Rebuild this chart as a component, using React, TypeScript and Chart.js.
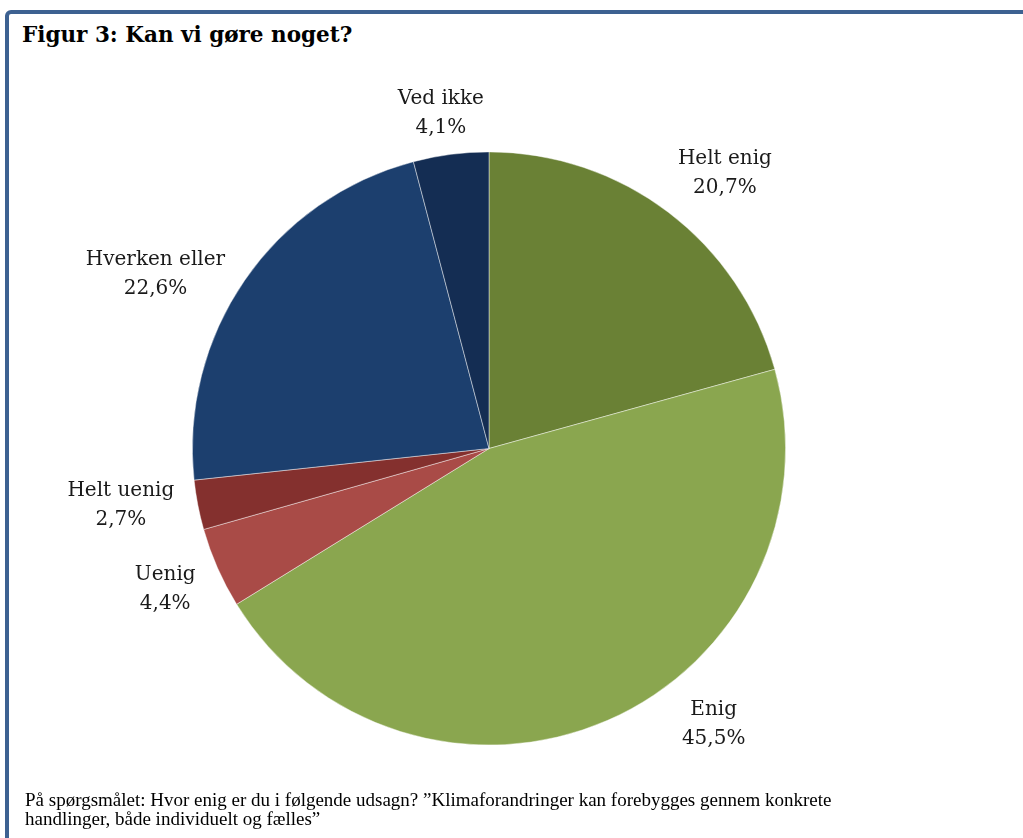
import React, { useEffect, useRef } from "react";
import { Chart, registerables } from "chart.js";

Chart.register(...registerables);

const categories = ["Helt enig", "Enig", "Uenig", "Helt uenig", "Hverken eller", "Ved ikke"];
const values = [20.7, 45.5, 4.4, 2.7, 22.6, 4.1];
const valueLabels = ["20,7%", "45,5%", "4,4%", "2,7%", "22,6%", "4,1%"];
const sliceColors = ["#6a8135", "#8aa64f", "#a94b47", "#84302e", "#1c3f6e", "#142d53"];

const titleText = "Figur 3: Kan vi gøre noget?";
const noteLines = [
  "På spørgsmålet: Hvor enig er du i følgende udsagn? ”Klimaforandringer kan forebygges gennem konkrete",
  "handlinger, både individuelt og fælles”",
];

// label nudges (px) relative to a point just outside each slice's middle
const labelNudges: [number, number][] = [
  [23, 5],
  [84, -46],
  [-2, -1],
  [-23, -10],
  [-44, 25],
  [-3, 13],
];

const labelPlugin = {
  id: "outsideLabels",
  afterDatasetsDraw(chart: any) {
    const ctx = chart.ctx;
    const meta = chart.getDatasetMeta(0);
    ctx.save();
    ctx.fillStyle = "#1a1a1a";
    ctx.font = '20px "DejaVu Serif"';
    ctx.textAlign = "center";
    ctx.textBaseline = "middle";
    meta.data.forEach((arc: any, i: number) => {
      const p = arc.getProps(["x", "y", "startAngle", "endAngle", "outerRadius"], true);
      const mid = (p.startAngle + p.endAngle) / 2;
      const d = p.outerRadius + 55;
      const cx = p.x + Math.cos(mid) * d + labelNudges[i][0];
      const cy = p.y + Math.sin(mid) * d + labelNudges[i][1];
      ctx.fillText(categories[i], cx, cy - 14.5);
      ctx.fillText(valueLabels[i], cx, cy + 14.5);
    });
    ctx.restore();
  },
};

export default function App() {
  const ref = useRef<HTMLCanvasElement>(null);
  useEffect(() => {
    if (!ref.current) return;
    const chart = new Chart(ref.current, {
      type: "pie",
      data: {
        labels: categories,
        datasets: [
          {
            data: values,
            backgroundColor: sliceColors,
            borderColor: "rgba(255,255,255,0.55)",
            borderWidth: 0.8,
          },
        ],
      },
      options: {
        animation: false,
        responsive: false,
        maintainAspectRatio: false,
        layout: { padding: { left: 192, top: 151, right: 237, bottom: 92 } },
        plugins: { legend: { display: false }, tooltip: { enabled: false } },
      },
      plugins: [labelPlugin],
    });
    return () => chart.destroy();
  }, []);

  return (
    <div style={{ position: "fixed", left: 0, top: 0, width: 1023, height: 838, background: "#fff", overflow: "hidden" }}>
      <div
        style={{
          position: "absolute",
          left: 5,
          top: 10,
          width: 1100,
          height: 900,
          border: "4px solid #3d6191",
          borderRadius: 6,
          boxSizing: "border-box",
        }}
      />
      <div
        style={{
          position: "absolute",
          left: 22,
          top: 22,
          fontFamily: '"DejaVu Serif", serif',
          fontWeight: "bold",
          fontSize: 21.5,
          color: "#000",
          whiteSpace: "nowrap",
        }}
      >
        {titleText}
      </div>
      <canvas ref={ref} width={1023} height={838} style={{ position: "absolute", left: 0, top: 0 }} />
      <div
        style={{
          position: "absolute",
          left: 25,
          top: 790,
          fontFamily: '"Liberation Serif", serif',
          fontSize: 19,
          lineHeight: "19px",
          color: "#000",
          whiteSpace: "nowrap",
        }}
      >
        {noteLines.map((l, i) => (
          <div key={i}>{l}</div>
        ))}
      </div>
    </div>
  );
}
